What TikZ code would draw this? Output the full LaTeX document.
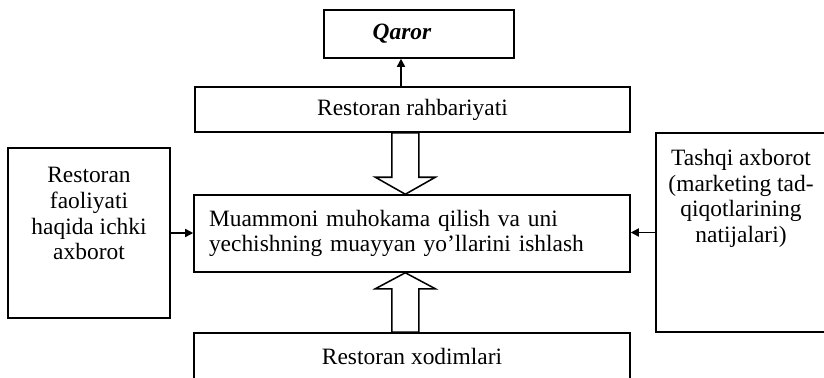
\documentclass[tikz,border=0pt]{standalone}
\usepackage{fontspec}
\setmainfont{Liberation Serif}
\usetikzlibrary{arrows.meta,positioning}

\begin{document}
\begin{tikzpicture}[
    every node/.style={font=\fontsize{20}{21.9}\selectfont},
    box/.style={draw, rectangle, line width=1.3pt, inner sep=0pt},
    arr/.style={-{Triangle[length=7pt,width=7pt]}, line width=1.3pt},
    hollow/.style={line width=1.3pt, line join=miter}]
    \clip (0,0) rectangle (24.72,11.31);
    % Boxes
    \node[box, minimum width=5.7cm, minimum height=1.44cm] (qaror) at (12.57,10.29) {};
    \node[box, minimum width=13.05cm, minimum height=1.35cm] (rahbar) at (12.375,8.025) {Restoran rahbariyati};
    \node[box, minimum width=4.86cm, minimum height=5.1cm] (ichki) at (2.67,4.32) {};
    \node[box, minimum width=13.08cm, minimum height=2.31cm, text width=12.18cm, align=left] (muammo) at (12.36,4.305) {Muammoni muhokama qilish va uni\\yechishning muayyan yo’llarini ishlash};
    \node[box, minimum width=5.1cm, minimum height=5.97cm] (tashqi) at (22.23,4.335) {};
    \node[box, minimum width=13.08cm, minimum height=1.9cm] (xodim) at (12.36,0.37) {};

    % Texts in the boxes
    \node[font=\fontsize{20}{21.9}\selectfont\bfseries\itshape] (qarortext) at ([xshift=-0.51cm]qaror.center) {Qaror};
    \node[anchor=north, align=center, inner sep=0pt] (ichkitext) at ([yshift=-0.6cm]ichki.north) {Restoran\\faoliyati\\haqida ichki\\axborot};
    \node[anchor=north, align=center, inner sep=0pt] (tashqitext) at ([yshift=-0.5cm]tashqi.north) {Tashqi axborot\\(marketing tad-\\qiqotlarining\\natijalari)};
    \node[anchor=base] (xodimtext) at ([yshift=-0.96cm]xodim.north) {Restoran xodimlari};

    % Connections
    \draw[arr] ([xshift=-0.54cm]qaror.south |- rahbar.north) -- ([xshift=-0.54cm]qaror.south);
    \draw[arr] (ichki.east) -- (ichki.east -| muammo.west);
    \draw[arr] (tashqi.west) -- (tashqi.west -| muammo.east);

    % Hollow arrows
    \coordinate (uptip) at ([xshift=-0.2cm]muammo.north);
    \coordinate (lowtip) at ([xshift=-0.2cm]muammo.south);
    \draw[hollow] (uptip) -- ([xshift=-0.9cm,yshift=0.51cm]uptip) -- ([xshift=-0.405cm,yshift=0.51cm]uptip)
        -- ([xshift=-0.405cm]uptip |- rahbar.south) -- ([xshift=0.405cm]uptip |- rahbar.south)
        -- ([xshift=0.405cm,yshift=0.51cm]uptip) -- ([xshift=0.9cm,yshift=0.51cm]uptip) -- cycle;
    \draw[hollow] (lowtip) -- ([xshift=-0.9cm,yshift=-0.48cm]lowtip) -- ([xshift=-0.405cm,yshift=-0.48cm]lowtip)
        -- ([xshift=-0.405cm]lowtip |- xodim.north) -- ([xshift=0.405cm]lowtip |- xodim.north)
        -- ([xshift=0.405cm,yshift=-0.48cm]lowtip) -- ([xshift=0.9cm,yshift=-0.48cm]lowtip) -- cycle;
\end{tikzpicture}
\end{document}
